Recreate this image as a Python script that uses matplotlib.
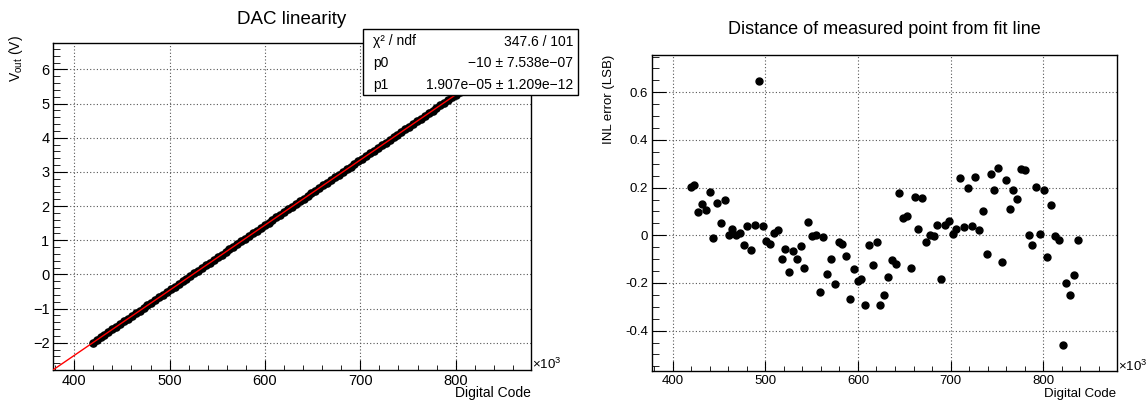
import numpy as np
import matplotlib
matplotlib.use('Agg')
import matplotlib.pyplot as plt
from matplotlib.ticker import MultipleLocator, FormatStrFormatter
from matplotlib.patches import Rectangle

plt.rcParams['font.family'] = ['Liberation Sans', 'DejaVu Sans']
plt.rcParams['mathtext.fontset'] = 'custom'
plt.rcParams['mathtext.rm'] = 'Liberation Sans'
plt.rcParams['mathtext.it'] = 'Liberation Sans:italic'

# DAC sweep: 103 codes, one every 4096 steps, starting at -2 V
code_start = 419430
code_step = 4096
n_points = 103

# fit results shown in the stats box
p0 = -10.0
p1 = 1.907e-05
fit_labels = ['\u03c7\u00b2 / ndf', 'p0', 'p1']
fit_values = ['347.6 / 101',
              '\u221210 \u00b1 7.538e\u221207',
              '1.907e\u221205 \u00b1 1.209e\u221212']

# INL error (LSB), in code order
inl_lsb = [
    0.201, 0.211, 0.098, 0.133, 0.105, 0.180, -0.011, 0.136, 0.050, 0.150,
    0.000, 0.027, 0.002, 0.010, -0.042, 0.038, -0.062, 0.045, 0.646, 0.041,
    -0.022, -0.038, 0.011, 0.022, -0.099, -0.059, -0.152, -0.066, -0.101, -0.043,
    -0.136, 0.055, -0.001, 0.000, -0.238, -0.008, -0.162, -0.099, -0.206, -0.029,
    -0.036, -0.088, -0.267, -0.140, -0.193, -0.185, -0.294, -0.041, -0.124, -0.027,
    -0.294, -0.250, -0.175, -0.102, -0.122, 0.176, 0.073, 0.081, -0.136, 0.162,
    0.028, 0.158, -0.027, 0.000, -0.001, 0.042, -0.182, 0.042, 0.062, 0.006,
    0.025, 0.242, 0.034, 0.197, 0.039, 0.245, 0.021, 0.101, -0.078, 0.256,
    0.190, 0.281, -0.113, 0.231, 0.112, 0.190, 0.152, 0.280, 0.276, 0.003,
    -0.041, 0.204, 0.006, 0.190, -0.092, 0.126, -0.004, -0.018, -0.459, -0.200,
    -0.249, -0.168, -0.021,
]

codes = code_start + code_step * np.arange(n_points)
inl = np.array(inl_lsb)
# measured voltage = fit line + residual (1 LSB = p1 volts)
v_out = p0 + p1 * (codes + inl)
xk = codes / 1000.0


def root_limits(v):
    lo, hi = np.min(v), np.max(v)
    d = hi - lo
    return lo - 0.1 * d, hi + 0.1 * d


def style_axes(ax, xlen, ylen, fs):
    ax.grid(True, color='#555555', linestyle=(0, (1, 2)), linewidth=0.8)
    ax.set_axisbelow(True)
    ax.tick_params(which='both', direction='in', top=False, right=False,
                   labelsize=fs, color='black')
    ax.tick_params(axis='x', which='major', length=xlen, pad=3)
    ax.tick_params(axis='x', which='minor', length=xlen / 2)
    ax.tick_params(axis='y', which='major', length=ylen, pad=2.5)
    ax.tick_params(axis='y', which='minor', length=ylen / 2)
    for s in ax.spines.values():
        s.set_linewidth(1.0)
        s.set_color('black')


fig = plt.figure(figsize=(11.48, 4.01), dpi=100)
W, H = 1148, 401

# left: DAC linearity
ax1 = fig.add_axes([52.9 / W, 1 - 370 / H, (531 - 52.9) / W, (370 - 43.3) / H])
xlim = root_limits(xk)
ylim = root_limits(v_out)
ax1.plot(xk, v_out, 'o', color='black', markersize=5.2, zorder=3)
xl = np.array(xlim)
ax1.plot(xl, p0 + p1 * xl * 1000, color='red', linewidth=1.0, zorder=4)
ax1.set_xlim(xlim)
ax1.set_ylim(ylim)
ax1.xaxis.set_major_locator(MultipleLocator(100))
ax1.xaxis.set_minor_locator(MultipleLocator(20))
ax1.yaxis.set_major_locator(MultipleLocator(1))
ax1.yaxis.set_minor_locator(MultipleLocator(0.2))
style_axes(ax1, 7, 10, 10.5)
ax1.set_title('DAC linearity', fontsize=13.5, pad=14)

fig.text(16 / W, 1 - 35 / H, 'V$_{\\rm out}$ (V)', rotation=90,
         ha='center', va='top', fontsize=10)
fig.text(531 / W, 1 - 393 / H, 'Digital Code', ha='right', va='center',
         fontsize=10)
fig.text(532 / W, 1 - 364 / H, '\u00d710$^{3}$', ha='left', va='center',
         fontsize=9.5)

# stats box
bx0, bx1, by0, by1 = 363, 578, 29.3, 95
fig.add_artist(Rectangle((bx0 / W, 1 - by1 / H), (bx1 - bx0) / W,
                         (by1 - by0) / H, transform=fig.transFigure,
                         facecolor='white', edgecolor='black',
                         linewidth=1.0, zorder=10))
for k, (lab, val) in enumerate(zip(fit_labels, fit_values)):
    yc = 1 - (41.5 + 21.7 * k) / H
    fig.text((bx0 + 10) / W, yc, lab, ha='left', va='center', fontsize=10,
             zorder=11)
    fig.text((bx1 - 5) / W, yc, val, ha='right', va='center', fontsize=10,
             zorder=11)

# right: residuals
ax2 = fig.add_axes([651.8 / W, 1 - 371 / H, (1116.6 - 651.8) / W, (371 - 55) / H])
ax2.plot(xk, inl, 'o', color='black', markersize=5, zorder=3)
ax2.set_xlim(xlim)
ax2.set_ylim(root_limits(inl))
ax2.xaxis.set_major_locator(MultipleLocator(100))
ax2.xaxis.set_minor_locator(MultipleLocator(20))
ax2.yaxis.set_major_locator(MultipleLocator(0.2))
ax2.yaxis.set_minor_locator(MultipleLocator(0.05))
ax2.yaxis.set_major_formatter(FormatStrFormatter('%g'))
style_axes(ax2, 7, 10, 9.5)
ax2.set_title('Distance of measured point from fit line', fontsize=13, pad=15)

fig.text(608.7 / W, 1 - 55 / H, 'INL error (LSB)', rotation=90,
         ha='center', va='top', fontsize=9.5)
fig.text(1116.6 / W, 1 - 394 / H, 'Digital Code', ha='right', va='center',
         fontsize=9.5)
fig.text(1118 / W, 1 - 366 / H, '\u00d710$^{3}$', ha='left', va='center',
         fontsize=9.5)

fig.savefig('out.png', dpi=100)
